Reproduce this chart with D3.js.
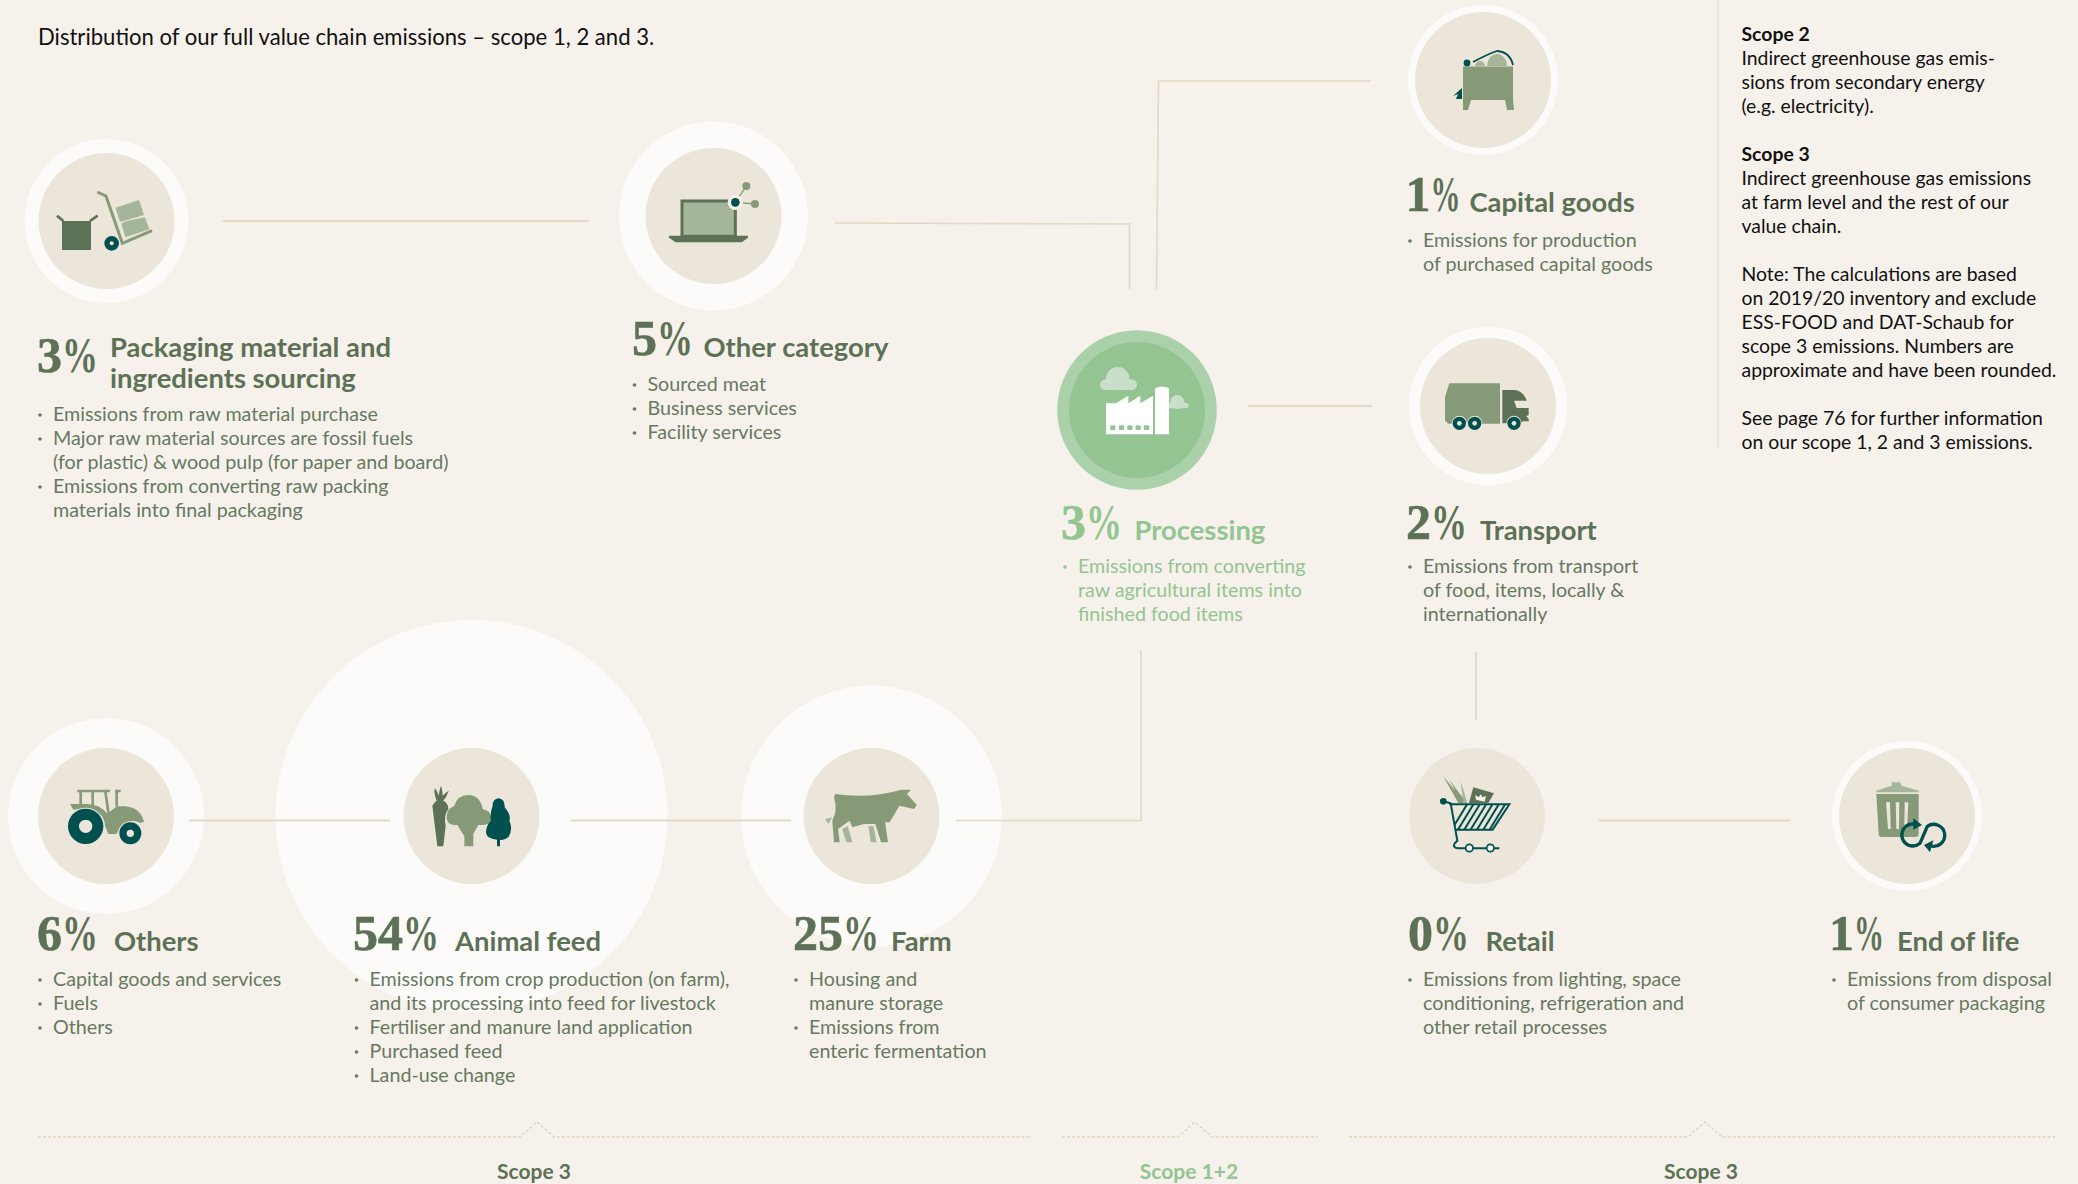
<!DOCTYPE html>
<html lang="en">
<head>
    <meta charset="UTF-8">
    <title>Distribution of our full value chain emissions</title>
    <script src="https://d3js.org/d3.v7.min.js"></script>
    <style>
        html, body { margin: 0; padding: 0; background: #f6f2eb; }
        svg { display: block; }
        text { font-family: "Lato", sans-serif; }
        .title { font-size: 22.1px; fill: #111; }
        .note { font-size: 19.4px; fill: #111; }
        .note.bold { font-weight: 700; }
        .num { font-family: "Liberation Serif", serif; font-weight: 700; font-size: 50px; stroke-width: 0.6px; }
        .head { font-size: 27.4px; font-weight: 700; }
        .body { font-size: 19.7px; }
        .scope { font-size: 21px; font-weight: 700; }
    </style>
</head>
<body>
    <svg id="chart" width="2078" height="1184"></svg>

    <script>
        const categories = ["Packaging", "Other category", "Capital goods", "Processing", "Transport",
            "Others", "Animal feed", "Farm", "Retail", "End of life"];

        // shares in %, the decimals are estimated from the halo sizes, labels show them rounded
        const shares = [3.4, 5, 1, 2.6, 2.4, 6, 54, 25, 0, 1];

        const headings = [
            ["Packaging material and", "ingredients sourcing"], ["Other category"], ["Capital goods"], ["Processing"], ["Transport"],
            ["Others"], ["Animal feed"], ["Farm"], ["Retail"], ["End of life"]
        ];

        const bullets = [
            [["Emissions from raw material purchase"],
             ["Major raw material sources are fossil fuels", "(for plastic) & wood pulp (for paper and board)"],
             ["Emissions from converting raw packing", "materials into final packaging"]],
            [["Sourced meat"], ["Business services"], ["Facility services"]],
            [["Emissions for production", "of purchased capital goods"]],
            [["Emissions from converting", "raw agricultural items into", "finished food items"]],
            [["Emissions from transport", "of food, items, locally &", "internationally"]],
            [["Capital goods and services"], ["Fuels"], ["Others"]],
            [["Emissions from crop production (on farm),", "and its processing into feed for livestock"],
             ["Fertiliser and manure land application"], ["Purchased feed"], ["Land-use change"]],
            [["Housing and", "manure storage"], ["Emissions from", "enteric fermentation"]],
            [["Emissions from lighting, space", "conditioning, refrigeration and", "other retail processes"]],
            [["Emissions from disposal", "of consumer packaging"]]
        ];

        const titleText = "Distribution of our full value chain emissions – scope 1, 2 and 3.";

        const noteLines = [
            ["Scope 2", true], ["Indirect greenhouse gas emis-"], ["sions from secondary energy"], ["(e.g. electricity)."],
            null,
            ["Scope 3", true], ["Indirect greenhouse gas emissions"], ["at farm level and the rest of our"], ["value chain."],
            null,
            ["Note: The calculations are based"], ["on 2019/20 inventory and exclude"], ["ESS-FOOD and DAT-Schaub for"],
            ["scope 3 emissions. Numbers are"], ["approximate and have been rounded."],
            null,
            ["See page 76 for further information"], ["on our scope 1, 2 and 3 emissions."]
        ];

        const scopeLabels = ["Scope 3", "Scope 1+2", "Scope 3"];

        // layout, one row per category
        const layout = [
            {cx: 106.5, cy: 221, numX: 37, numY: 372, headX: 110, headY: 356.5, bodyX: 53, bodyY: 421},
            {cx: 713.5, cy: 216, numX: 632, numY: 355, headX: 703.5, headY: 356.5, bodyX: 647.5, bodyY: 391},
            {cx: 1483, cy: 80, numX: 1405.5, numY: 211, headX: 1469.5, headY: 212, bodyX: 1423, bodyY: 247},
            {cx: 1137, cy: 410, numX: 1061, numY: 539, headX: 1134.5, headY: 539.5, bodyX: 1078, bodyY: 573},
            {cx: 1488, cy: 406, numX: 1406, numY: 539, headX: 1480, headY: 539.5, bodyX: 1423, bodyY: 573},
            {cx: 106, cy: 816, numX: 37, numY: 950, headX: 114, headY: 950.5, bodyX: 53, bodyY: 986},
            {cx: 471.5, cy: 816, numX: 353, numY: 950, headX: 455, headY: 950.5, bodyX: 369.5, bodyY: 986},
            {cx: 871.5, cy: 816, numX: 793, numY: 950, headX: 891, headY: 950.5, bodyX: 809, bodyY: 986},
            {cx: 1477, cy: 816, numX: 1408, numY: 950, headX: 1485.5, headY: 950.5, bodyX: 1423, bodyY: 986},
            {cx: 1907, cy: 816, numX: 1829, numY: 950, headX: 1897, headY: 950.5, bodyX: 1847, bodyY: 986}
        ];

        const connectors = [
            [[223, 221], [589, 221]],
            [[835, 223], [1129.5, 224], [1129.5, 289]],
            [[1156.5, 289], [1158.5, 81], [1371, 81]],
            [[1248, 406], [1372, 406]],
            [[189, 820.5], [390, 820.5]],
            [[571, 820.5], [791, 820.5]],
            [[956, 820.5], [1141, 820.5], [1141, 650]],
            [[1476, 652], [1476, 720]],
            [[1599, 820.5], [1790, 820.5]]
        ];

        const scopeBrackets = [
            {x0: 38, x1: 1030, peak: 537, labelX: 534},
            {x0: 1062, x1: 1318, peak: 1195, labelX: 1189},
            {x0: 1349, x1: 2055, peak: 1705, labelX: 1701}
        ];

        const c = {
            bg: "#f6f2eb", halo: "#fcfbf9", disc: "#ece5d9", line: "#e3d9c4",
            dark: "#5c7155", mid: "#869a78", light: "#a5b59a", teal: "#00504f",
            green: "#93c492", greenHalo: "#abd1ab", greenPale: "#c9dfc9", dash: "#dfd3ba"
        };

        const svg = d3.select("#chart");
        const processingIdx = categories.indexOf("Processing");

        // halo radius grows with the share, the disc itself has r=68
        const haloR = d3.scaleSqrt()
            .domain([0, 1, 2.5, 3.4, 5, 6, 25, 54])
            .range([68, 75, 79.5, 82, 94.5, 98, 130.5, 196]);

        const nodes = shares.map((v, i) => ({name: categories[i], share: v, i, ...layout[i]}));

        svg.selectAll("circle.halo").data(nodes).enter().append("circle")
            .attr("class", "halo")
            .attr("cx", d => d.cx).attr("cy", d => d.cy)
            .attr("r", d => haloR(d.share))
            .attr("fill", d => d.i === processingIdx ? c.greenHalo : c.halo);

        const line = d3.line();
        svg.selectAll("path.conn").data(connectors).enter().append("path")
            .attr("class", "conn")
            .attr("d", line)
            .attr("fill", "none")
            .attr("stroke", c.line)
            .attr("stroke-width", d => d[0][1] === d[1][1] && d.length === 2 ? 2 : 1.6);

        svg.selectAll("circle.disc").data(nodes).enter().append("circle")
            .attr("class", "disc")
            .attr("cx", d => d.cx).attr("cy", d => d.cy)
            .attr("r", 68)
            .attr("fill", d => d.i === processingIdx ? c.green : c.disc);

        // divider next to the notes
        svg.append("line").attr("x1", 1718).attr("x2", 1718).attr("y1", 0).attr("y2", 449)
            .attr("stroke", "#e3dfd3").attr("stroke-width", 1.5);

        svg.append("text").attr("class", "title").attr("x", 38).attr("y", 45).text(titleText);

        const noteY = 41;
        noteLines.forEach((l, i) => {
            if (!l) return;
            svg.append("text")
                .attr("class", l[1] ? "note bold" : "note")
                .attr("x", 1741.5)
                .attr("y", noteY + i * 24)
                .text(l[0]);
        });

        // labels
        nodes.forEach(d => {
            const col = d.i === processingIdx ? c.green : c.dark;
            const txt = d.i === processingIdx ? c.green : "#66795f";
            const g = svg.append("g");
            const shown = Math.round(d.share);
            const num = g.append("text").attr("class", "num").attr("x", d.numX).attr("y", d.numY)
                .attr("fill", col).attr("stroke", col).text(shown);
            const w = num.node().getComputedTextLength();
            // the % sign is narrower in the original, squeeze it
            g.append("text").attr("class", "num")
                .attr("transform", `translate(${d.numX + w},${d.numY}) scale(${shown === 1 ? 0.6 : 0.72},1)`)
                .attr("fill", col).text("%");
            headings[d.i].forEach((h, j) => {
                g.append("text").attr("class", "head").attr("x", d.headX).attr("y", d.headY + j * 31)
                    .attr("fill", col).text(h);
            });
            let row = 0;
            bullets[d.i].forEach(item => {
                g.append("circle").attr("cx", d.bodyX - 13).attr("cy", d.bodyY + row * 24 - 6).attr("r", 1.8).attr("fill", txt);
                item.forEach(s => {
                    g.append("text").attr("class", "body").attr("x", d.bodyX).attr("y", d.bodyY + row * 24)
                        .attr("fill", txt).text(s);
                    row++;
                });
            });
        });

        // scope brackets along the bottom
        const bracketY = 1137;
        scopeBrackets.forEach((b, i) => {
            svg.append("path")
                .attr("d", line([[b.x0, bracketY], [b.peak - 17, bracketY], [b.peak, bracketY - 15], [b.peak + 17, bracketY], [b.x1, bracketY]]))
                .attr("fill", "none").attr("stroke", c.dash).attr("stroke-width", 1.3).attr("stroke-dasharray", "3 2");
            svg.append("text").attr("class", "scope").attr("x", b.labelX).attr("y", 1179)
                .attr("text-anchor", "middle")
                .attr("fill", i === 1 ? c.green : c.dark)
                .text(scopeLabels[i]);
        });

        // icons
        function icon(ox, oy, s, sy) {
            return svg.append("g").attr("transform", `translate(${ox},${oy}) scale(${s},${sy === undefined ? s : sy})`);
        }
        function shape(g, d, fill) { return g.append("path").attr("d", d).attr("fill", fill); }
        function dot(g, x, y, r, fill) { return g.append("circle").attr("cx", x).attr("cy", y).attr("r", r).attr("fill", fill); }
        function ring(g, x, y, r, hole) {
            dot(g, x, y, r + 3, c.disc);
            dot(g, x, y, r, c.teal);
            dot(g, x, y, hole, c.disc);
        }

        // packaging
        let ic = icon(20, 130, 1 / 3);
        shape(ic, "M126,273H213V360H126Z", c.dark);
        ic.append("path").attr("d", "M111,257L130,273M233,257L210,273").attr("stroke", c.dark).attr("stroke-width", 8).attr("fill", "none");
        ic.append("path").attr("d", "M232,186L258,198L307,340L396,302").attr("stroke", c.mid).attr("stroke-width", 9).attr("fill", "none");
        shape(ic, "M286,233L357,210L372,255L320,270L300,275Z", c.light);
        shape(ic, "M322,272L375,262L388,298L316,322L304,280Z", c.light);
        ring(ic, 275, 340, 22, 6);

        // laptop
        ic = icon(660, 40, 1 / 3);
        ic.append("rect").attr("x", 66).attr("y", 483).attr("width", 160).attr("height", 106)
            .attr("fill", c.light).attr("stroke", c.dark).attr("stroke-width", 9);
        shape(ic, "M27,587H264V593L245,607H47L27,593Z", c.dark);
        ic.append("path").attr("d", "M226,487L259,438M226,487L285,492").attr("stroke", c.mid).attr("stroke-width", 4);
        dot(ic, 226, 487, 23, "#f5f1ea");
        dot(ic, 226, 487, 13, c.teal);
        dot(ic, 259, 438, 12, c.mid);
        dot(ic, 285, 492, 12, c.mid);

        // capital goods
        ic = icon(0, 0, 1);
        shape(ic, "M1487,66A10,12 0 0 1 1507,66Z", c.light);
        shape(ic, "M1475,66A5,5 0 0 1 1485,66Z", c.light);
        shape(ic, "M1463,66.5H1513V100L1514,110H1507L1505,100H1471L1468,110H1463Z", c.mid);
        ic.append("path").attr("d", "M1473,62Q1488,54 1497,51Q1510,52 1513,65").attr("fill", "none").attr("stroke", c.teal).attr("stroke-width", 1.8);
        dot(ic, 1467, 63, 3.4, c.teal);
        shape(ic, "M1453,96L1462,88V99H1456L1458,94Z", c.teal);

        // factory
        ic = icon(1080, 340, 1 / 3);
        dot(ic, 113, 116, 35, c.greenPale);
        ic.append("rect").attr("x", 60).attr("y", 118).attr("width", 111).attr("height", 32).attr("rx", 16).attr("fill", c.greenPale);
        dot(ic, 292, 186, 21, c.greenPale);
        ic.append("rect").attr("x", 259).attr("y", 188).attr("width", 66).attr("height", 17).attr("rx", 8).attr("fill", c.greenPale);
        shape(ic, "M78,283V190H108L145,167V190L181,167V190L219,167V283Z", "#fff");
        shape(ic, "M225,283V145Q246,134 267,145V283Z", "#fff");
        [91, 117, 142, 167, 192].forEach(x => ic.append("rect").attr("x", x).attr("y", 256).attr("width", 15).attr("height", 14).attr("fill", c.green));

        // truck
        shape(ic, "M1108,130H1260V251H1105L1095,242V172Z", c.mid);
        shape(ic, "M1267,150H1305Q1332,155 1340,182H1302L1310,204H1346V226L1338,228L1346,236V244H1330L1320,250H1267Z", c.dark);
        ring(ic, 1138, 250, 20, 7);
        ring(ic, 1184, 250, 20, 7);
        ring(ic, 1302, 250, 20, 7);

        // tractor
        ic = icon(50, 749, 1 / 3);
        ic.append("path").attr("d", "M82,126H180M92,128V168M128,128V168M166,128L176,195M200,126V172M195,126H212")
            .attr("stroke", c.mid).attr("stroke-width", 8).attr("fill", "none");
        shape(ic, "M60,165H110Q150,165 172,195L200,172H225Q270,175 282,218L272,222Q240,205 210,235L200,255H175L165,230Q165,190 110,178L70,182Z", c.mid);
        ring(ic, 107, 232, 53, 20);
        ring(ic, 241, 253, 33, 11);

        // plants
        shape(ic, "M1147,170Q1160,150 1172,152Q1195,158 1195,180Q1180,200 1187,230L1180,292H1162Z", c.dark);
        shape(ic, "M1160,155Q1150,130 1155,118Q1163,130 1166,140Q1168,122 1173,110Q1178,125 1178,140Q1188,130 1196,125Q1190,145 1178,157Z", c.dark);
        shape(ic, "M1190,205Q1190,178 1212,172Q1222,138 1255,138Q1290,138 1298,180Q1322,185 1324,205Q1320,228 1300,228H1285L1270,255V292H1243V262L1222,228H1210Q1190,225 1190,205Z", c.mid);
        shape(ic, "M1345,148Q1365,150 1364,175Q1385,200 1378,215Q1390,240 1375,265Q1360,275 1350,272V292H1341V272Q1308,270 1308,250Q1310,225 1322,215Q1320,190 1328,170Q1328,150 1345,148Z", c.teal);

        // cow
        ic = icon(20, 739, 1 / 1.742, 1 / 3);
        shape(ic, "M1432,270L1442,262L1450,310H1440ZM1478,262H1487L1492,310H1482Z", c.light);
        shape(ic, "M1420,165Q1480,180 1535,152L1552,152L1545,165L1562,197L1558,210L1532,200L1515,250H1507L1512,310H1500L1490,255H1470L1450,265L1445,245L1425,270L1428,310H1418L1415,245Q1425,215 1418,175Z", c.mid);
        shape(ic, "M1403,241L1415,235L1408,255Z", c.light);

        // cart
        ic = icon(1430, 759, 1 / 3);
        shape(ic, "M40,52L105,132H85ZM58,62L110,132H95Z", c.mid);
        shape(ic, "M92,66L112,132H100Z", c.light);
        shape(ic, "M130,85L192,103L175,132H117Z", c.dark);
        shape(ic, "M138,122L136,108L146,115L152,106L158,115L168,110L164,128Z", "#f5f1ea");
        const clip = svg.append("clipPath").attr("id", "basket");
        clip.append("path").attr("d", "M62,136H238L188,212H75Z");
        const hatch = ic.append("g").attr("clip-path", "url(#basket)");
        d3.range(60, 300, 19).forEach(x => hatch.append("line")
            .attr("x1", x).attr("y1", 220).attr("x2", x + 55).attr("y2", 130)
            .attr("stroke", c.teal).attr("stroke-width", 6));
        ic.append("path").attr("d", "M40,127L62,133L82,245Q70,255 72,262Q76,268 85,268H208M58,136H238L188,212H75")
            .attr("fill", "none").attr("stroke", c.teal).attr("stroke-width", 6);
        dot(ic, 40, 127, 10, c.teal);
        [118, 181].forEach(x => ic.append("circle").attr("cx", x).attr("cy", 267).attr("r", 11)
            .attr("fill", "#f5f1ea").attr("stroke", c.teal).attr("stroke-width", 5));

        // bin
        ic = icon(1400, 739, 1 / 3);
        shape(ic, "M1429,155L1475,140V130H1500L1504,140L1556,155V160H1429Z", c.light);
        shape(ic, "M1429,165H1556V285Q1556,294 1544,294H1445Q1436,294 1436,285Z", c.mid);
        shape(ic, "M1458,190H1470L1472,270H1464ZM1487,190H1498L1497,270H1489ZM1514,190H1525L1521,270H1513Z", c.disc);
        ic.append("path").attr("d", "M1556,260A33,33 0 1 0 1560,313L1582,262A33,33 0 1 1 1590,320")
            .attr("fill", "none").attr("stroke", c.teal).attr("stroke-width", 10);
        shape(ic, "M1540,238L1566,258L1540,272Z", c.teal);
        shape(ic, "M1600,304L1572,318L1590,340Z", c.teal);
    </script>
</body>
</html>
